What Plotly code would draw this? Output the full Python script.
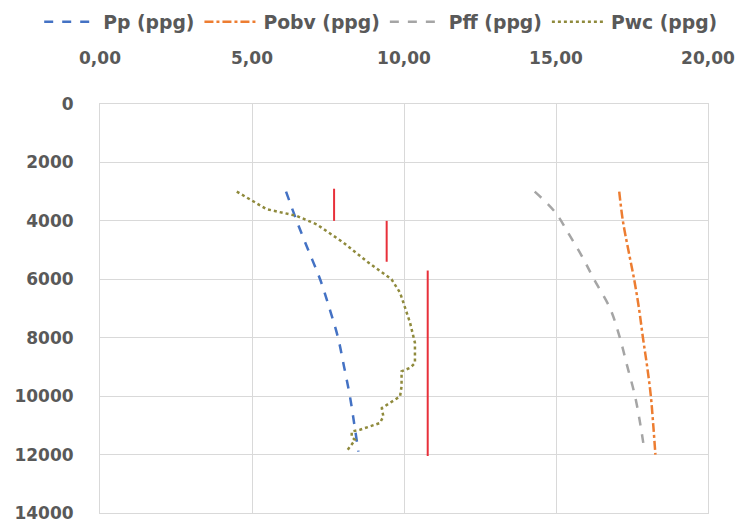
import plotly.graph_objects as go

# Depth (ft) / pressure gradient (ppg) series
pp_depth = [3000, 4000, 5000, 6000, 7000, 8000, 9000, 10000, 11000, 11900]
pp_ppg = [6.12, 6.47, 6.85, 7.24, 7.55, 7.83, 8.03, 8.22, 8.37, 8.50]

pobv_depth = [3000, 4000, 5000, 6000, 7000, 8000, 9000, 10000, 11000, 12000]
pobv_ppg = [17.08, 17.20, 17.38, 17.57, 17.73, 17.86, 18.00, 18.12, 18.20, 18.27]

pff_depth = [3000, 3700, 4500, 5300, 6000, 7000, 8000, 9000, 10000, 11000, 11800]
pff_ppg = [14.30, 14.97, 15.45, 15.90, 16.25, 16.78, 17.10, 17.35, 17.60, 17.78, 17.90]

pwc_depth = [3000, 3300, 3600, 3830, 4120, 4740, 5380, 6000, 6460, 6800, 7490,
             8180, 8870, 9030, 9150, 9660, 10010, 10410, 10690, 10920, 11150,
             11210, 11400, 11500, 11890]
pwc_ppg = [4.50, 5.00, 5.48, 6.47, 7.13, 8.00, 8.77, 9.59, 9.87, 9.98, 10.20,
           10.36, 10.36, 10.20, 9.92, 9.92, 9.87, 9.27, 9.32, 9.21, 8.55,
           8.28, 8.28, 8.39, 8.11]

# Casing shoe markers (vertical red segments): ppg, top depth, bottom depth
casing_ppg = [7.70, 9.43, 10.78]
casing_top = [2900, 4000, 5700]
casing_bottom = [4000, 5400, 12050]

x_ticks = [0, 5, 10, 15, 20]
x_ticktext = ["0,00", "5,00", "10,00", "15,00", "20,00"]
y_ticks = [0, 2000, 4000, 6000, 8000, 10000, 12000, 14000]
y_ticktext = ["0", "2000", "4000", "6000", "8000", "10000", "12000", "14000"]

font_family = "DejaVu Sans"
text_color = "#595959"
grid_color = "#D9D9D9"

fig = go.Figure()

fig.add_trace(go.Scatter(x=pp_ppg, y=pp_depth, mode="lines", name="Pp (ppg)",
                         line=dict(color="#4472C4", width=2.5, dash="dash"),
                         line_shape="spline"))
fig.add_trace(go.Scatter(x=pobv_ppg, y=pobv_depth, mode="lines", name="Pobv (ppg)",
                         line=dict(color="#ED7D31", width=2.5, dash="dashdot"),
                         line_shape="spline"))
fig.add_trace(go.Scatter(x=pff_ppg, y=pff_depth, mode="lines", name="Pff (ppg)",
                         line=dict(color="#A5A5A5", width=2.5, dash="dash"),
                         line_shape="spline"))
fig.add_trace(go.Scatter(x=pwc_ppg, y=pwc_depth, mode="lines", name="Pwc (ppg)",
                         line=dict(color="#8F8A3C", width=2.5, dash="dot")))

cx, cy = [], []
for v, t, b in zip(casing_ppg, casing_top, casing_bottom):
    cx += [v, v, None]
    cy += [t, b, None]
fig.add_trace(go.Scatter(x=cx, y=cy, mode="lines", showlegend=False,
                         line=dict(color="#E8303A", width=2)))

tfont = dict(family=font_family, size=17, color=text_color, weight="bold")
lfont = dict(family=font_family, size=18.8, color=text_color, weight="bold")

fig.update_layout(
    width=740, height=523,
    margin=dict(l=100, r=32, t=104, b=10, autoexpand=False),
    paper_bgcolor="white", plot_bgcolor="white",
    font=dict(family=font_family, size=17, color=text_color),
    legend=dict(orientation="h", x=-0.1, xanchor="left", y=1.2005, yanchor="middle",
                xref="paper", yref="paper",
                font=lfont, itemwidth=54),
    xaxis=dict(side="top", range=[0, 20], tickvals=x_ticks, ticktext=x_ticktext,
               showgrid=True, gridcolor=grid_color, gridwidth=1,
               showline=True, linecolor=grid_color, mirror=True,
               zeroline=False, ticks="", ticklabelstandoff=32, automargin=False,
               tickfont=tfont),
    yaxis=dict(range=[14000, 0], tickvals=y_ticks, ticktext=y_ticktext,
               showgrid=True, gridcolor=grid_color, gridwidth=1,
               showline=True, linecolor=grid_color, mirror=True,
               zeroline=False, ticks="", ticklabelstandoff=22, automargin=False,
               tickfont=tfont),
)

fig.write_html("out.html", config={"displayModeBar": False},
               post_script="document.body.style.margin='0px';document.body.style.overflow='hidden';")
